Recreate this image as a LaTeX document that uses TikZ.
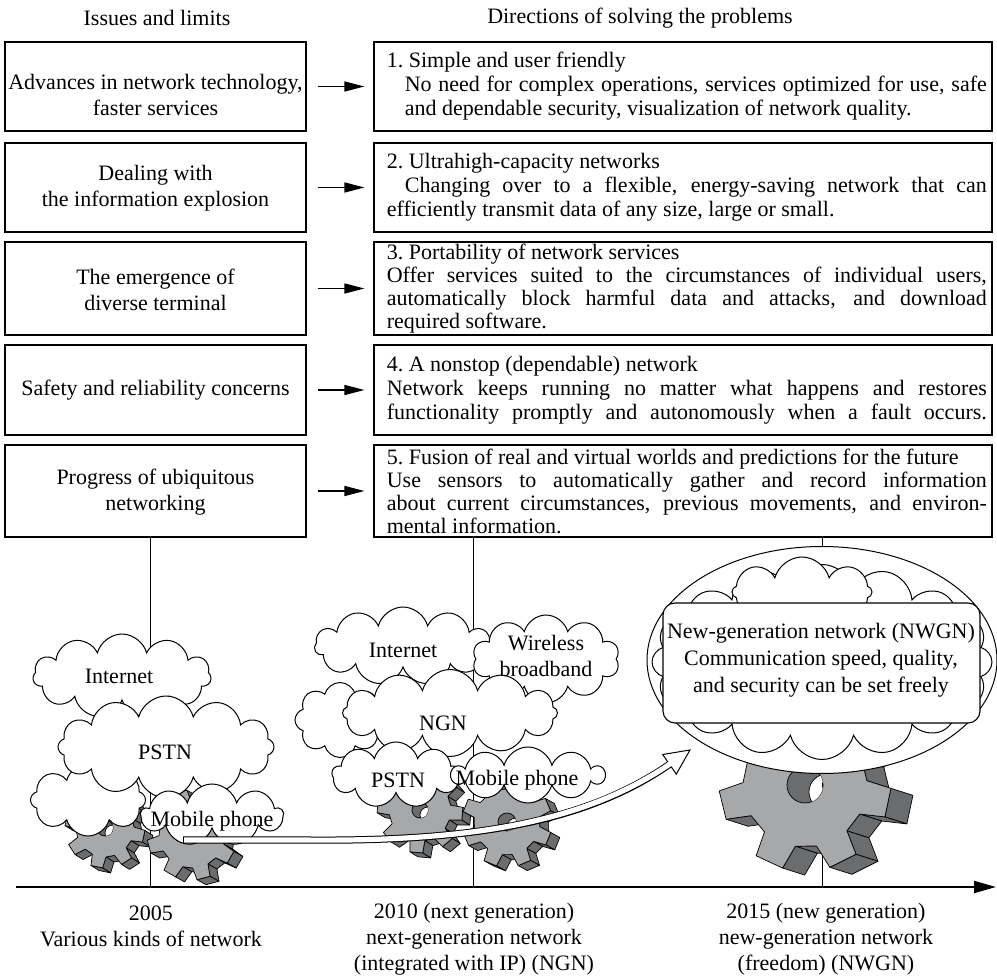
\documentclass[tikz,border=0pt]{standalone}
\usepackage{fontspec}
\setmainfont{Liberation Serif}
\usetikzlibrary{arrows.meta,shapes.symbols,calc}

\definecolor{gearlight}{HTML}{A7A8AA}
\definecolor{geardark}{HTML}{6B6C6E}

\tikzset{
  frame/.style={draw=black, line width=0.55pt, fill=white, inner sep=0pt},
  lbox/.style={frame, minimum width=150.5pt},
  rbox/.style={frame, minimum width=309pt},
  tag/.style={inner sep=0pt, align=center},
  rtext/.style={inner sep=0pt, anchor=west, font=\fontsize{11}{12}\selectfont},
  rtextfour/.style={rtext, font=\fontsize{11}{11.5}\selectfont},
  flow/.style={line width=0.65pt, -{Triangle[length=10pt,width=5pt]},
               shorten <=5.5pt, shorten >=4.5pt},
  puff/.style={cloud, cloud puffs=#1, cloud ignores aspect, draw=black,
               line width=0.5pt, fill=white, inner sep=0pt},
  gearface/.style={fill=gearlight, draw=black, line width=0.35pt, line join=round},
  gearside/.style={fill=geardark, draw=black, line width=0.35pt, line join=round},
  timeaxis/.style={line width=0.9pt, -{Triangle[length=11pt,width=6pt]}},
  tick/.style={line width=0.5pt},
}

% justified lines: indented continuation line, and full-width line
\newcommand\jline[1]{\makebox[291pt][s]{#1}}
\newcommand\jfull[1]{\makebox[300pt][s]{#1}}
\newcommand\indln{\hspace*{9pt}}

% an extruded gear wheel
% #1 #2 centre, #3 tip radius, #4 root radius, #5 teeth, #6 angle of a tooth,
% #7 #8 depth offset, #9 radius of the axle hole
\newcommand\drawgear[9]{%
  \begin{scope}[shift={(#1,#2)}]
    \pgfmathsetmacro\gstep{360/#5}
    \pgfmathsetmacro\groot{0.31*\gstep}
    \pgfmathsetmacro\gtip{0.19*\gstep}
    % side walls turned towards the viewer
    \foreach \k in {1,...,#5}{
      \pgfmathsetmacro\gT{#6+\k*\gstep}
      \pgfmathsetmacro\gA{\gT-\groot}
      \pgfmathsetmacro\gB{\gT-\gtip}
      \pgfmathsetmacro\gC{\gT+\gtip}
      \pgfmathsetmacro\gD{\gT+\groot}
      \pgfmathsetmacro\gE{\gT+\gstep-\groot}
      \foreach \aP/\aQ/\rP/\rQ in {\gA/\gB/#4/#3,\gB/\gC/#3/#3,\gC/\gD/#3/#4,\gD/\gE/#4/#4}{
        \pgfmathsetmacro\gvis{(\rQ*sin(\aQ)-\rP*sin(\aP))*#7-(\rQ*cos(\aQ)-\rP*cos(\aP))*#8}
        \ifdim\gvis pt>0pt
          \filldraw[gearside] (\aP:\rP) -- (\aQ:\rQ)
            -- ([shift={(#7,#8)}]\aQ:\rQ) -- ([shift={(#7,#8)}]\aP:\rP) -- cycle;
        \fi
      }
    }
    % front face
    \filldraw[gearface] (#6+\gstep-\groot:#4)
      \foreach \k in {1,...,#5}{
        -- (#6+\k*\gstep-\groot:#4) -- (#6+\k*\gstep-\gtip:#3)
        -- (#6+\k*\gstep+\gtip:#3) -- (#6+\k*\gstep+\groot:#4)
      } -- cycle;
    % axle hole with the light showing through it
    \filldraw[gearside] (0,0) circle[radius=#9];
    \begin{scope}
      \clip (0,0) circle[radius=#9];
      \filldraw[fill=white, draw=black, line width=0.35pt] (#7,#8) circle[radius=#9];
    \end{scope}
  \end{scope}}

\begin{document}
\begin{tikzpicture}[x=0.5pt, y=-0.5pt,
  every node/.style={font=\fontsize{11}{13}\selectfont}]
\useasboundingbox (0,0) rectangle (997,978);

% ---------- column headings
\node[tag] (hl) at (157,18) {Issues and limits};
\node[tag] (hr) at (640,18) {Directions of solving the problems};

% ---------- issues
\node[lbox, minimum height=44.5pt] (L1) at (155.5,86.5) {};
\node[lbox, minimum height=44.5pt] (L2) at (155.5,187.5) {};
\node[lbox, minimum height=46.5pt] (L3) at (155.5,288.5) {};
\node[lbox, minimum height=45pt]   (L4) at (155.5,390) {};
\node[lbox, minimum height=46pt]   (L5) at (155.5,491) {};
\node[tag] (l1t) at (155.5,95)    {Advances in network technology,\\faster services};
\node[tag] (l2t) at (155.5,188)   {Dealing with\\the information explosion};
\node[tag] (l3t) at (155.5,290)   {The emergence of\\diverse terminal};
\node[tag] (l4t) at (155.5,390)   {Safety and reliability concerns};
\node[tag] (l5t) at (155.5,492)   {Progress of ubiquitous\\networking};

% ---------- directions
\node[rbox, minimum height=44.5pt] (R1) at (683,86.5) {};
\node[rbox, minimum height=44.5pt] (R2) at (683,187.5) {};
\node[rbox, minimum height=46.5pt] (R3) at (683,288.5) {};
\node[rbox, minimum height=45pt]   (R4) at (683,390) {};
\node[rbox, minimum height=46pt]   (R5) at (683,491) {};

\node[rtext] (r1t) at ([xshift=6.5pt]R1.west) {\parbox{300pt}{%
  1.~Simple and user friendly\\
  \indln\jline{No need for complex operations, services optimized for use, safe}\\
  \indln and dependable security, visualization of network quality.}};
\node[rtext] (r2t) at ([xshift=6.5pt]R2.west) {\parbox{300pt}{%
  2.~Ultrahigh-capacity networks\\
  \indln\jline{Changing over to a flexible, energy-saving network that can}\\
  efficiently transmit data of any size, large or small.}};
\node[rtextfour] (r3t) at ([xshift=6.5pt]R3.west) {\parbox{300pt}{%
  3.~Portability of network services\\
  \jfull{Offer services suited to the circumstances of individual users,}\\
  \jfull{automatically block harmful data and attacks, and download}\\
  required software.}};
\node[rtext] (r4t) at ([xshift=6.5pt]R4.west) {\parbox{300pt}{%
  4.~A nonstop (dependable) network\\
  \jfull{Network keeps running no matter what happens and restores}\\
  \jfull{functionality promptly and autonomously when a fault occurs.}}};
\node[rtextfour] (r5t) at ([xshift=6.5pt]R5.west) {\parbox{300pt}{%
  5.~Fusion of real and virtual worlds and predictions for the future\\
  \jfull{Use sensors to automatically gather and record information}\\
  \jfull{about current circumstances, previous movements, and environ-}\\
  mental information.}};

\foreach \i in {1,...,5}{\draw[flow] (L\i) -- (R\i);}

% ---------- time axis and the three stages
\coordinate (axL) at (16,887);
\coordinate (axR) at (996,887);
\coordinate (s05) at (150.7,887);
\coordinate (s10) at (473,887);
\coordinate (s15) at (822.5,887);
\draw[tick] (s05 |- L5.south) -- (s05);
\draw[tick] (s10 |- R5.south) -- (s10);
\draw[tick] (s15 |- R5.south) -- (s15);

% ---------- 2005: separate networks
\drawgear{105}{828}{40}{29}{8}{12}{8}{5}{8}
\drawgear{192}{835}{45}{33}{8}{30}{9}{5}{9}
\node[puff=8,  minimum width=57.5pt, minimum height=36pt] (c05a) at (88,800) {};
\node[puff=11, minimum width=89pt,   minimum height=42pt] (c05i) at (122,676) {};
\node[puff=12, minimum width=108pt,  minimum height=51pt] (c05p) at (166,747) {};
\node[puff=9,  minimum width=71pt,   minimum height=31pt] (c05m) at (212,815) {};
\node[tag] (t05i) at (119,676) {Internet};
\node[tag] (t05p) at (165,752) {PSTN};
\node[tag] (t05m) at (212,821) {Mobile phone};

% ---------- 2010: NGN
\drawgear{420}{810}{43}{31}{8}{5}{8}{5}{8}
\drawgear{507}{822}{45}{33}{8}{22}{9}{5}{9}
\node[puff=8,  minimum width=45pt,   minimum height=37.5pt] (c10a) at (340,720) {};
\node[puff=11, minimum width=88.5pt, minimum height=39pt]   (c10i) at (403,646) {};
\node[puff=10, minimum width=73.5pt, minimum height=44pt]   (c10w) at (546,659) {};
\node[puff=12, minimum width=107.5pt,minimum height=43.5pt] (c10n) at (450,713) {};
\node[puff=9,  minimum width=64pt,   minimum height=33pt]   (c10p) at (396,775) {};
\node[puff=10, minimum width=76pt,   minimum height=28pt]   (c10m) at (528,775) {};
\node[tag] (t10i) at (403,650) {Internet};
\node[tag] (t10w) at (546,656) {Wireless\\broadband};
\node[tag] (t10n) at (443,723) {NGN};
\node[tag] (t10p) at (398,780) {PSTN};
\node[tag] (t10m) at (517,780) {Mobile phone};

% ---------- 2015: NWGN
\drawgear{805}{785}{86}{62}{7}{12}{22}{7}{18}
\begin{scope}
  \clip (805,785) circle[radius=18];
  \clip (827,792) circle[radius=18];
  \draw[tick] (s15) -- +(0,-200);
\end{scope}
\draw[fill=white, line width=0.5pt] (822,660) ellipse[x radius=175, y radius=113.5];
\node[puff=16, minimum width=170pt, minimum height=97.5pt] (c15r) at (822,662) {};
\node[puff=8,  minimum width=70pt,  minimum height=35pt]   (c15t) at (802,592) {};
\node[frame, rounded corners=6pt, minimum width=158.5pt, minimum height=60pt] (nwgn) at (821.5,663) {};
\node[tag, font=\fontsize{11}{13.5}\selectfont] (nwgnt) at (821,660)
  {New-generation network (NWGN)\\Communication speed, quality,\\and security can be set freely};

% ---------- evolution arrow
\coordinate (mpA) at (183,840);
\coordinate (mpB) at (300,840);
\coordinate (mpE) at (669.5,764.3);
\coordinate (nwT) at (690,750);
\coordinate (nwL) at (662.7,754.5);
\coordinate (nwR) at (676.3,774.1);
\draw[line width=3.6pt] (mpA) -- (mpB) .. controls (470,842) and (585,823) .. (mpE);
\filldraw[fill=white, draw=black, line width=0.5pt] (nwT) -- (nwL) -- (nwR) -- cycle;
\draw[white, line width=2.6pt, shorten <=0.5pt, shorten >=-2pt]
  (mpA) -- (mpB) .. controls (470,842) and (585,823) .. (mpE);

\draw[timeaxis] (axL) -- (axR);

% ---------- stage captions
\node[tag] (y05) at (151,926) {2005\\Various kinds of network};
\node[tag] (y10) at (474,939) {2010 (next generation)\\next-generation network\\(integrated with IP) (NGN)};
\node[tag] (y15) at (826,939) {2015 (new generation)\\new-generation network\\(freedom) (NWGN)};
\end{tikzpicture}
\end{document}
